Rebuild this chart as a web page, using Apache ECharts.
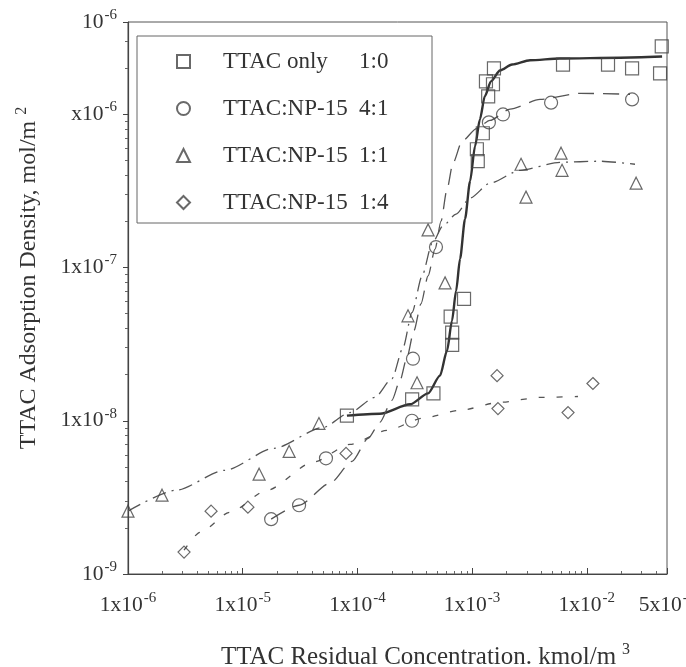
<!DOCTYPE html>
<html>
<head>
<meta charset="utf-8">
<script src="https://cdn.jsdelivr.net/npm/echarts@6/dist/echarts.min.js"></script>
<style>
html, body { margin: 0; padding: 0; background: #fff; }
#chart { width: 686px; height: 667px; }
</style>
</head>
<body>
<div id="chart"></div>
<script>
// measured points: x = residual concentration (kmol/m3), y = adsorption density (mol/m2)
const sqX = [8.1e-5, 3.0e-4, 4.6e-4, 6.7e-4, 6.7e-4, 6.5e-4, 8.5e-4, 1.12e-3, 1.10e-3, 1.24e-3, 1.38e-3, 1.32e-3, 1.52e-3, 1.55e-3, 6.2e-3, 1.53e-2, 2.48e-2, 4.5e-2, 4.35e-2];
const sqY = [1.08e-8, 1.38e-8, 1.51e-8, 3.13e-8, 3.76e-8, 4.78e-8, 6.25e-8, 4.94e-7, 5.91e-7, 7.52e-7, 1.31e-6, 1.64e-6, 1.57e-6, 1.99e-6, 2.11e-6, 2.11e-6, 1.99e-6, 2.77e-6, 1.85e-6];

const circX = [1.77e-5, 3.10e-5, 5.32e-5, 2.99e-4, 3.05e-4, 4.84e-4, 1.40e-3, 1.86e-3, 4.88e-3, 2.48e-2];
const circY = [2.28e-9, 2.81e-9, 5.69e-9, 1.0e-8, 2.54e-8, 1.36e-7, 8.85e-7, 9.97e-7, 1.19e-6, 1.25e-6];

const triX = [1.0e-6, 1.98e-6, 1.39e-5, 2.54e-5, 4.62e-5, 3.31e-4, 2.76e-4, 5.81e-4, 4.13e-4, 2.67e-3, 2.95e-3, 5.96e-3, 6.08e-3, 2.69e-2];
const triY = [2.57e-9, 3.27e-9, 4.48e-9, 6.31e-9, 9.6e-9, 1.77e-8, 4.84e-8, 7.94e-8, 1.76e-7, 4.72e-7, 2.88e-7, 5.57e-7, 4.31e-7, 3.55e-7];

const diaX = [3.08e-6, 5.3e-6, 1.11e-5, 7.96e-5, 1.65e-3, 1.68e-3, 6.86e-3, 1.13e-2];
const diaY = [1.39e-9, 2.57e-9, 2.73e-9, 6.12e-9, 1.97e-8, 1.20e-8, 1.13e-8, 1.75e-8];

// fitted curves
const sqFitX = [8.1e-5, 1.57e-4, 2.88e-4, 4.13e-4, 5.25e-4, 6.04e-4, 6.68e-4, 7.25e-4, 7.85e-4, 8.67e-4, 9.6e-4, 1.06e-3, 1.17e-3, 1.29e-3, 1.46e-3, 1.75e-3, 2.23e-3, 3.2e-3, 5.83e-3, 1.95e-2, 4.53e-2];
const sqFitY = [1.08e-8, 1.11e-8, 1.28e-8, 1.51e-8, 1.97e-8, 2.86e-8, 4.50e-8, 7.05e-8, 1.14e-7, 2.07e-7, 3.66e-7, 6.18e-7, 9.27e-7, 1.31e-6, 1.64e-6, 1.93e-6, 2.11e-6, 2.25e-6, 2.31e-6, 2.34e-6, 2.38e-6];

const circFitX = [1.77e-5, 3.10e-5, 5.77e-5, 8.98e-5, 1.24e-4, 1.57e-4, 2.0e-4, 2.35e-4, 2.70e-4, 3.11e-4, 3.58e-4, 4.13e-4, 4.75e-4, 5.36e-4, 6.04e-4, 6.81e-4, 8.17e-4, 1.10e-3, 1.43e-3, 2.14e-3, 3.91e-3, 8.73e-3, 2.38e-2];
const circFitY = [2.28e-9, 2.81e-9, 3.91e-9, 5.43e-9, 7.67e-9, 9.75e-9, 1.36e-8, 1.83e-8, 2.58e-8, 3.87e-8, 5.79e-8, 8.81e-8, 1.32e-7, 2.01e-7, 3.24e-7, 4.8e-7, 6.67e-7, 8.09e-7, 9.12e-7, 1.08e-6, 1.25e-6, 1.37e-6, 1.35e-6];

const triFitX = [1.0e-6, 2.62e-6, 7.01e-6, 1.87e-5, 5.01e-5, 8.61e-5, 1.42e-4, 2.0e-4, 2.5e-4, 2.99e-4, 3.66e-4, 4.47e-4, 5.57e-4, 7.25e-4, 9.6e-4, 1.43e-3, 2.62e-3, 5.83e-3, 1.30e-2, 2.63e-2];
const triFitY = [2.57e-9, 3.52e-9, 4.75e-9, 6.61e-9, 9.04e-9, 1.13e-8, 1.42e-8, 1.88e-8, 3.0e-8, 5.07e-8, 8.81e-8, 1.43e-7, 1.87e-7, 2.23e-7, 2.84e-7, 3.55e-7, 4.31e-7, 4.86e-7, 4.94e-7, 4.72e-7];

const diaFitX = [3.08e-6, 4.25e-6, 7.74e-6, 1.63e-5, 4.10e-5, 8.61e-5, 1.81e-4, 3.73e-4, 7.83e-4, 1.75e-3, 3.91e-3, 8.37e-3];
const diaFitY = [1.43e-9, 1.87e-9, 2.53e-9, 3.52e-9, 5.36e-9, 7.01e-9, 8.65e-9, 1.04e-8, 1.17e-8, 1.32e-8, 1.42e-8, 1.44e-8];

const seriesNames = ['TTAC only', 'TTAC:NP-15', 'TTAC:NP-15', 'TTAC:NP-15'];
const seriesRatios = ['1:0', '4:1', '1:1', '1:4'];

// tick labels (as printed, partly cut off in the scan)
const xTickValues = [1e-6, 1e-5, 1e-4, 1e-3, 1e-2, 5e-2];
const xTickBase = ['1x10', '1x10', '1x10', '1x10', '1x10', '5x10'];
const xTickExp = ['-6', '-5', '-4', '-3', '-2', '-2'];
const yTickValues = [1e-9, 1e-8, 1e-7, 1e-6, 4e-6];
const yTickBase = ['10', '1x10', '1x10', 'x10', '10'];
const yTickExp = ['-9', '-8', '-7', '-6', '-6'];

const FONT = 'Liberation Serif';
const INK = '#333';

const zip = (xs, ys) => xs.map((x, i) => [x, ys[i]]);

const tickLabel = (vals, base, exp) => (v) => {
    const k = vals.findIndex(t => Math.abs(Math.log10(t) - Math.log10(v)) < 0.01);
    if (k < 0) return '';
    return '{m|' + base[k] + '}{s|' + exp[k] + '}';
};

const labelRich = {
    m: { fontFamily: FONT, fontSize: 21.5, color: INK },
    s: { fontFamily: FONT, fontSize: 15, color: INK, padding: [0, 0, 14, 1] }
};

const names = seriesNames.map((n, i) => n + ' ' + seriesRatios[i]);
const symbols = ['rect', 'circle', 'triangle', 'diamond'];
const sizes = [13, 13, 12, 12];
const points = [zip(sqX, sqY), zip(circX, circY), zip(triX, triY), zip(diaX, diaY)];
const fits = [zip(sqFitX, sqFitY), zip(circFitX, circFitY), zip(triFitX, triFitY), zip(diaFitX, diaFitY)];
const dashes = ['solid', [16, 9], [14, 6, 2, 6], [6, 12]];
const widths = [2.4, 1.3, 1.3, 1.3];

const series = [];
fits.forEach((d, i) => {
    series.push({
        name: 'fit ' + i,
        type: 'line',
        data: d,
        smooth: 0.25,
        smoothMonotone: 'x',
        showSymbol: false,
        symbol: 'none',
        silent: true,
        lineStyle: { color: i === 0 ? '#333' : '#555', width: widths[i], type: dashes[i] },
        z: 2
    });
});
points.forEach((d, i) => {
    series.push({
        name: names[i],
        type: 'scatter',
        data: d,
        symbol: symbols[i],
        symbolSize: sizes[i],
        clip: false,
        itemStyle: { color: 'rgba(255,255,255,0)', borderColor: '#444', borderWidth: 1.2 },
        z: 3
    });
});

const chart = echarts.init(document.getElementById('chart'));
chart.setOption({
    backgroundColor: '#fff',
    animation: false,
    grid: { left: 128, right: 19, top: 22, bottom: 93, show: true, borderColor: '#555', borderWidth: 1, outerBoundsMode: 'none' },
    legend: {
        orient: 'vertical',
        left: 137,
        top: 36,
        data: names.map((n, i) => ({ name: n, icon: symbols[i] })),
        itemWidth: 13,
        itemHeight: 13,
        itemGap: 24,
        padding: [14, 23, 9, 39],
        borderColor: '#666',
        borderWidth: 1,
        backgroundColor: '#fff',
        selectedMode: false,
        formatter: (name) => {
            const k = name.lastIndexOf(' ');
            return '{a|' + name.slice(0, k) + '}{b|' + name.slice(k + 1) + '}';
        },
        textStyle: {
            fontFamily: FONT,
            fontSize: 23,
            color: INK,
            padding: [0, 0, 0, 28],
            rich: {
                a: { fontFamily: FONT, fontSize: 23, color: INK, width: 136, lineHeight: 20 },
                b: { fontFamily: FONT, fontSize: 23, color: INK, width: 50, lineHeight: 20 }
            }
        }
    },
    xAxis: {
        type: 'log',
        logBase: 10,
        min: 1e-6,
        max: 5e-2,
        name: '{a|TTAC Residual Concentration. kmol/m}{s|3}',
        nameLocation: 'middle',
        nameGap: 68,
        nameTextStyle: {
            padding: [0, 0, 0, 56],
            rich: {
                a: { fontFamily: FONT, fontSize: 25, color: INK },
                s: { fontFamily: FONT, fontSize: 16, color: INK, padding: [0, 0, 14, 6] }
            }
        },
        axisLine: { lineStyle: { color: '#444', width: 1.2 } },
        axisTick: { inside: true, length: 6, lineStyle: { color: '#444' } },
        minorTick: { show: true, splitNumber: 9, length: 3, lineStyle: { color: '#666' } },
        splitLine: { show: false },
        axisLabel: {
            margin: 17,
            showMaxLabel: true,
            showMinLabel: true,
            formatter: tickLabel(xTickValues, xTickBase, xTickExp),
            rich: labelRich
        }
    },
    yAxis: {
        type: 'log',
        logBase: 10,
        min: 1e-9,
        max: 4e-6,
        name: '{a|TTAC Adsorption Density, mol/m}{s|2}',
        nameLocation: 'middle',
        nameGap: 84,
        nameRotate: 90,
        nameTextStyle: {
            padding: [0, 0, 0, 40],
            rich: {
                a: { fontFamily: FONT, fontSize: 24, color: INK },
                s: { fontFamily: FONT, fontSize: 16, color: INK, padding: [0, 0, 14, 6] }
            }
        },
        axisLine: { lineStyle: { color: '#444', width: 1.2 } },
        axisTick: { inside: false, length: 5, lineStyle: { color: '#444' } },
        minorTick: { show: true, splitNumber: 9, length: 3, lineStyle: { color: '#666' } },
        splitLine: { show: false },
        axisLabel: {
            margin: 11,
            showMaxLabel: true,
            showMinLabel: true,
            formatter: tickLabel(yTickValues, yTickBase, yTickExp),
            rich: labelRich
        }
    },
    series: series
});
</script>
</body>
</html>
